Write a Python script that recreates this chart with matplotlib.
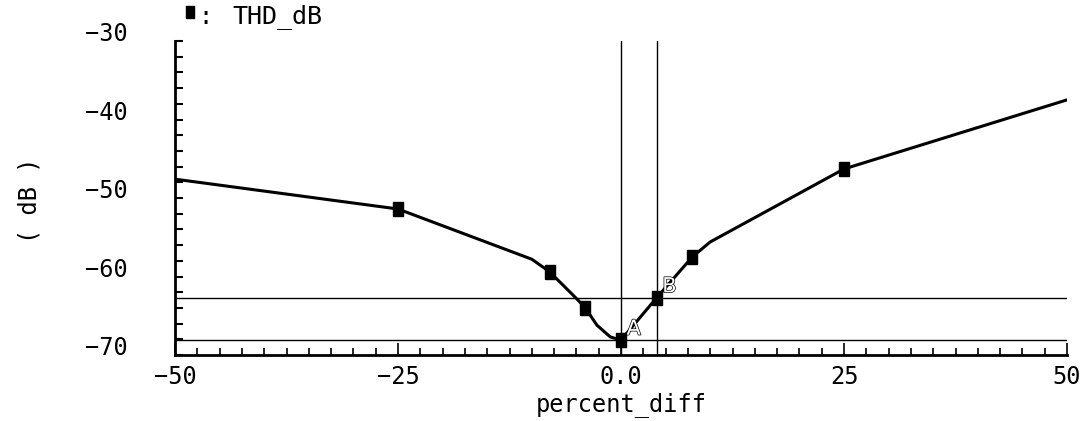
import matplotlib
matplotlib.use("Agg")
import matplotlib.pyplot as plt
import matplotlib.transforms as mtransforms
import matplotlib.patheffects as pe
from matplotlib.lines import Line2D
from matplotlib.ticker import MultipleLocator, FixedLocator

# ---- data ----
percent_diff = [-50, -25, -10, -8, -5, -4, -2.7, -1.2, 0, 4, 8, 10, 25, 50]
thd_db = [-47.6, -51.4, -57.8, -59.4, -62.8, -64.0, -66.2, -67.7, -68.1, -62.7, -57.5, -55.6, -46.3, -37.5]
marker_x = [-25, -8, -4, 0, 4, 8, 25]
marker_y = [-51.4, -59.4, -64.0, -68.1, -62.7, -57.5, -46.3]
cursor_x = [0, 4]
cursor_y = [-68.1, -62.7]
cursor_names = ["A", "B"]
xticks = [-50, -25, 0, 25, 50]
xtick_labels = ["−50", "−25", "0.0", "25", "50"]
yticks = [-30, -40, -50, -60, -70]
ytick_labels = ["−30", "−40", "−50", "−60", "−70"]
series_name = "THD_dB"

W, H, DPI = 1080, 421, 100
fig = plt.figure(figsize=(W / DPI, H / DPI), dpi=DPI)
L, R, T, B = 175, 1067, 41, 355
ax = fig.add_axes([L / W, 1 - B / H, (R - L) / W, (B - T) / H])

ax.set_xlim(-50, 50)
ax.set_ylim(-70, -30)

font = "DejaVu Sans Mono"

# rectangular marker (taller than wide)
rect = [(-0.33, -0.5), (0.33, -0.5), (0.33, 0.5), (-0.33, 0.5), (-0.33, -0.5)]

ax.plot(percent_diff, thd_db, color="black", lw=2.2, solid_joinstyle="round", zorder=3)
ax.plot(marker_x, marker_y, ls="none", marker=rect, ms=10, color="black", zorder=4)

# cursors
for cx in cursor_x:
    ax.axvline(cx, color="black", lw=1.0, zorder=2)
for cy in cursor_y:
    ax.axhline(cy, color="black", lw=1.0, zorder=2)
for cx, cy, nm in zip(cursor_x, cursor_y, cursor_names):
    t = ax.annotate(nm, (cx, cy), xytext=(4, 1), textcoords="offset points",
                    fontsize=15, color="white", ha="left", va="bottom",
                    family="DejaVu Sans", zorder=5)
    t.set_path_effects([pe.withStroke(linewidth=1.0, foreground="black")])

# spines
for s in ["top", "right"]:
    ax.spines[s].set_visible(False)
for s in ["left", "bottom"]:
    ax.spines[s].set_linewidth(2.0)

ax.xaxis.set_major_locator(FixedLocator(xticks))
ax.set_xticklabels(xtick_labels, fontsize=17, family=font)
ax.xaxis.set_minor_locator(MultipleLocator(2.5))
ax.yaxis.set_major_locator(FixedLocator(yticks))
ax.set_yticklabels(ytick_labels, fontsize=17, family=font)
ax.yaxis.set_minor_locator(MultipleLocator(2))

ax.tick_params(axis="x", which="major", direction="in", length=9, width=1.2, pad=7)
ax.tick_params(axis="x", which="minor", direction="in", length=5, width=1.2)
ax.tick_params(axis="y", which="major", direction="in", length=6, width=1.5, pad=34)
ax.tick_params(axis="y", which="minor", direction="in", length=5.5, width=1.5)

offset = mtransforms.ScaledTranslation(0, 9.5 / DPI, fig.dpi_scale_trans)
for lab in ax.get_yticklabels():
    lab.set_transform(lab.get_transform() + offset)

ax.set_xlabel("percent_diff", fontsize=17, family=font)
ax.xaxis.set_label_coords(0.5, -(392 - B) / (B - T))
ax.set_ylabel("( dB )", fontsize=17, family=font, va="center")
ax.yaxis.set_label_coords((29 - L) / (R - L), (B - 200) / (B - T))

# legend-like header
fig.add_artist(Line2D([190 / W], [1 - 11.5 / H], marker=rect, ms=8, color="black",
                      ls="none", transform=fig.transFigure))
fig.text(198 / W, 1 - 17 / H, ":", fontsize=17, family=font, ha="left", va="center")
fig.text(232 / W, 1 - 17 / H, series_name, fontsize=18, family=font,
         ha="left", va="center")

fig.savefig("out.png", dpi=DPI)
